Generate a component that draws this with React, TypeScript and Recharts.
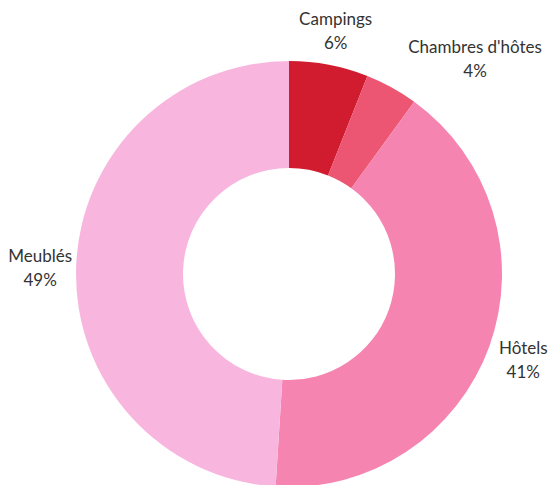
import React from "react";
import { PieChart, Pie, Cell } from "recharts";

const categories = ["Campings", "Chambres d'hôtes", "Hôtels", "Meublés"];
const shares = [6, 4, 41, 49];
const colors = ["#d01c2e", "#ec5673", "#f585b0", "#f8b6df"];

const data = categories.map((name, i) => ({ name, value: shares[i] }));

const RAD = Math.PI / 180;

const renderLabel = (props: any) => {
  const { cx, cy, midAngle, index, name, value } = props;
  let r = 249;
  let angle = midAngle;
  if (index === 1) {
    r = 286;
    angle = midAngle - 11.8;
  }
  const x = cx + r * Math.cos(-angle * RAD);
  const y = cy + r * Math.sin(-angle * RAD);
  return (
    <text
      x={x}
      y={y}
      textAnchor="middle"
      fill="#333333"
      style={{ fontFamily: "Lato, sans-serif", fontSize: 17 }}
    >
      <tspan x={x} dy={-4}>{name}</tspan>
      <tspan x={x} dy={24}>{`${value}%`}</tspan>
    </text>
  );
};

export default function App() {
  return (
    <div style={{ width: 550, height: 485 }}>
      <style>{`body{margin:0}`}</style>
      <PieChart width={550} height={485} margin={{ top: 0, right: 0, bottom: 0, left: 0 }}>
        <Pie
          data={data}
          dataKey="value"
          nameKey="name"
          cx={289}
          cy={274}
          innerRadius={106}
          outerRadius={213}
          startAngle={90}
          endAngle={-270}
          stroke="none"
          label={renderLabel}
          labelLine={false}
          isAnimationActive={false}
        >
          {data.map((d, i) => (
            <Cell key={d.name} fill={colors[i]} />
          ))}
        </Pie>
      </PieChart>
    </div>
  );
}
